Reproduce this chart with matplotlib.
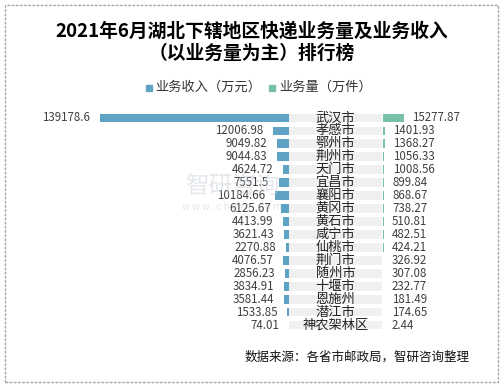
import matplotlib.pyplot as plt
from matplotlib.patches import Rectangle

plt.rcParams['font.family'] = ['Noto Sans CJK SC', 'DejaVu Sans']

# data
cities = ["武汉市", "孝感市", "鄂州市", "荆州市", "天门市", "宜昌市", "襄阳市", "黄冈市",
          "黄石市", "咸宁市", "仙桃市", "荆门市", "随州市", "十堰市", "恩施州", "潜江市", "神农架林区"]
revenue = [139178.6, 12006.98, 9049.82, 9044.83, 4624.72, 7551.5, 10184.66, 6125.67,
           4413.99, 3621.43, 2270.88, 4076.57, 2856.23, 3834.91, 3581.44, 1533.85, 74.01]
volume = [15277.87, 1401.93, 1368.27, 1056.33, 1008.56, 899.84, 868.67, 738.27,
          510.81, 482.51, 424.21, 326.92, 307.08, 232.77, 181.49, 174.65, 2.44]

blue = "#5fa3c4"
green = "#78c1a6"
W, H = 503, 388
fig = plt.figure(figsize=(W / 100, H / 100), dpi=100)

def px_axes(x0, x1, y0, y1):
    return fig.add_axes([x0 / W, 1 - y1 / H, (x1 - x0) / W, (y1 - y0) / H])

n = len(cities)
ys = list(range(n))
top, bottom = 111.5, 331.5

ax_l = px_axes(100, 289, top, bottom)
ax_m = px_axes(289, 382, top, bottom)
ax_r = px_axes(383, 480, top, bottom)

# watermark (behind everything)
fig.text(232 / W, 1 - 187 / H, "智研咨询", ha="center", va="center", fontsize=17,
         color="#c4ccd8", alpha=0.45, zorder=0)
fig.text(232 / W, 1 - 207 / H, "w w w . c h y x x . c o m", ha="center", va="center",
         fontsize=7, color="#c4ccd8", alpha=0.5, zorder=0)

# left: revenue
ax_l.barh(ys, revenue, height=0.68, color=blue)
ax_l.set_xlim(139178.6, 0)
for y, v in zip(ys, revenue):
    ax_l.annotate(str(v), (v, y), xytext=(-7, 0),
                  textcoords="offset points", ha="right", va="center",
                  fontsize=8.3, color="#404040")

# middle: city labels on grey bands
ax_m.barh(ys, [1] * n, height=0.68, color="#f0f0f0")
ax_m.set_xlim(0, 1)
for y, c in zip(ys, cities):
    ax_m.text(0.5, y, c, ha="center", va="center", fontsize=9.5, color="#222222")

# right: volume
ax_r.barh(ys, volume, height=0.68, color=green)
ax_r.set_xlim(0, 15277.87 * 97 / 21)
for y, v in zip(ys, volume):
    ax_r.annotate(f"{v:.2f}", (v, y), xytext=(6, 0), textcoords="offset points",
                  ha="left", va="center", fontsize=8.3, color="#404040")

for ax in (ax_l, ax_m, ax_r):
    ax.set_ylim(n - 0.5, -0.5)
    ax.axis("off")
    ax.patch.set_alpha(0)

# title
fig.text(252 / W, 1 - 31 / H, "2021年6月湖北下辖地区快递业务量及业务收入",
         ha="center", va="center", fontsize=13.5, fontweight="bold")
fig.text(252 / W, 1 - 53 / H, "（以业务量为主）排行榜",
         ha="center", va="center", fontsize=13.5, fontweight="bold")

# legend
fig.patches.append(Rectangle((146 / W, 1 - 90.5 / H), 6 / W, 6 / H, color=blue,
                             transform=fig.transFigure))
fig.text(155 / W, 1 - 87 / H, "业务收入（万元）", ha="left", va="center", fontsize=9.5, color="#333333")
fig.patches.append(Rectangle((269 / W, 1 - 90.5 / H), 6 / W, 6 / H, color=green,
                             transform=fig.transFigure))
fig.text(279 / W, 1 - 87 / H, "业务量（万件）", ha="left", va="center", fontsize=9.5, color="#333333")

# source
fig.text(470 / W, 1 - 357 / H, "数据来源：各省市邮政局，智研咨询整理", ha="right", va="center",
         fontsize=9, color="#111111")

# border
fig.patches.append(Rectangle((5 / W, 1 - 382 / H), 493 / W, 377 / H, fill=False,
                             edgecolor="#a8a8a8", linewidth=1, linestyle=(0, (2, 1)),
                             transform=fig.transFigure))

fig.savefig("out.png", dpi=100)
